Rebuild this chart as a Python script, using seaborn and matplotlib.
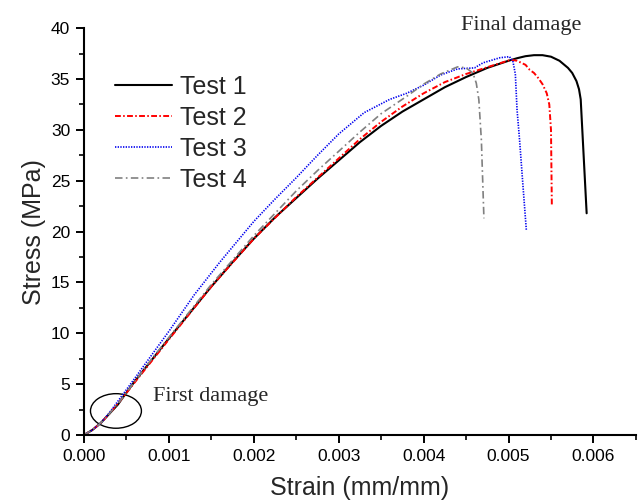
import matplotlib
matplotlib.use("Agg")
import matplotlib.pyplot as plt
from matplotlib.patches import Ellipse
from matplotlib.ticker import MultipleLocator, FormatStrFormatter
import pandas as pd
import seaborn as sns

# Stress-strain readings for the four tensile tests
strain_1 = [0, 0.0001, 0.0002, 0.0003, 0.0004, 0.00045, 0.0006, 0.0008, 0.001, 0.0015,
            0.00175, 0.002, 0.00225, 0.0025, 0.00275, 0.003, 0.00325, 0.0035, 0.00375, 0.004,
            0.00425, 0.0045, 0.00475, 0.005, 0.0051, 0.0052, 0.0053, 0.0054, 0.0055, 0.0056,
            0.0057, 0.00575, 0.0058, 0.00583, 0.00585, 0.00592]
stress_1 = [0, 0.5, 1.2, 2.1, 3.0, 3.6, 5.3, 7.4, 9.5, 14.6,
            17.0, 19.3, 21.4, 23.3, 25.2, 27.0, 28.8, 30.4, 31.8, 33.0,
            34.2, 35.2, 36.1, 36.8, 37.05, 37.25, 37.35, 37.35, 37.2, 36.8,
            36.1, 35.6, 34.8, 34.0, 33.0, 21.8]

strain_2 = [0, 0.0001, 0.0002, 0.0003, 0.00045, 0.0006, 0.0008, 0.001, 0.0015, 0.002,
            0.0025, 0.00275, 0.003, 0.00325, 0.0035, 0.00375, 0.004, 0.00425, 0.0045, 0.0048,
            0.00503, 0.0051, 0.0052, 0.00525, 0.0053, 0.00535, 0.0054, 0.00545, 0.00548,
            0.0055, 0.00551]
stress_2 = [0, 0.5, 1.2, 2.1, 3.6, 5.2, 7.3, 9.4, 14.6, 19.3,
            23.4, 25.3, 27.2, 29.1, 30.8, 32.3, 33.6, 34.7, 35.5, 36.3,
            36.9, 36.8, 36.4, 35.9, 35.6, 35.1, 34.5, 33.6, 32.5,
            30.0, 22.6]

strain_3 = [0, 0.0001, 0.0002, 0.0003, 0.00045, 0.0006, 0.0008, 0.001, 0.0013, 0.0016,
            0.002, 0.00225, 0.0025, 0.00275, 0.003, 0.0033, 0.0036, 0.0038, 0.004, 0.0042,
            0.0044, 0.0046, 0.0047, 0.0049, 0.00501, 0.00505, 0.00508, 0.0051, 0.00513,
            0.00517, 0.00521]
stress_3 = [0, 0.5, 1.2, 2.2, 3.9, 5.6, 7.9, 10.2, 13.8, 17.0,
            21.0, 23.2, 25.3, 27.5, 29.6, 31.7, 33.0, 33.6, 34.4, 35.4,
            36.0, 36.1, 36.6, 37.1, 37.2, 36.8, 35.5, 32.0, 29.0,
            24.5, 20.1]

strain_4 = [0, 0.0001, 0.0002, 0.0003, 0.00045, 0.0006, 0.0008, 0.001, 0.0015, 0.002,
            0.0025, 0.00275, 0.003, 0.00325, 0.0035, 0.0038, 0.004, 0.0042, 0.0044, 0.0045,
            0.00458, 0.00462, 0.00465, 0.00468, 0.00471]
stress_4 = [0, 0.5, 1.2, 2.1, 3.6, 5.3, 7.5, 9.6, 14.8, 19.6,
            24.0, 26.0, 27.9, 29.8, 31.6, 33.3, 34.5, 35.5, 36.2, 36.1,
            35.6, 34.6, 33.0, 29.0, 21.3]

tests = ["Test 1", "Test 2", "Test 3", "Test 4"]
colors = ["#000000", "#ff0000", "#0000ee", "#808080"]
widths = [1.5, 1.4, 1.2, 1.2]
dash_styles = [(None, None), (3.0, 1.2, 0.8, 1.2), (0.8, 0.8), (4.5, 2.0, 1.0, 2.0)]

frames = []
for name, x, y in zip(tests, [strain_1, strain_2, strain_3, strain_4],
                      [stress_1, stress_2, stress_3, stress_4]):
    frames.append(pd.DataFrame({"Strain": x, "Stress": y, "Test": name}))
data = pd.concat(frames, ignore_index=True)

sns.set_style("ticks")
plt.rcParams["font.family"] = ["Liberation Sans", "DejaVu Sans"]

fig = plt.figure(figsize=(6.38, 5.04), dpi=100)
ax = fig.add_axes([0.1317, 0.137, 0.865, 0.807])

for name, c, lw, ds in zip(tests, colors, widths, dash_styles):
    sub = data[data["Test"] == name]
    sns.lineplot(data=sub, x="Strain", y="Stress", ax=ax, color=c, lw=lw,
                 sort=False, estimator=None, label=name)
    ln = ax.get_lines()[-1]
    ln.set_solid_joinstyle("round")
    if ds[0] is not None:
        ln.set_dashes(ds)

ax.set_xlim(0, 0.0065)
ax.set_ylim(0, 40)
ax.xaxis.set_major_locator(MultipleLocator(0.001))
ax.xaxis.set_minor_locator(MultipleLocator(0.0005))
ax.yaxis.set_major_locator(MultipleLocator(5))
ax.yaxis.set_minor_locator(MultipleLocator(2.5))
ax.xaxis.set_major_formatter(FormatStrFormatter("%.3f"))

for side in ["top", "right"]:
    ax.spines[side].set_visible(False)
for side in ["left", "bottom"]:
    ax.spines[side].set_linewidth(1.5)
    ax.spines[side].set_color("black")
ax.tick_params(which="major", direction="out", length=6, width=1.4, labelsize=12.5,
               colors="black", pad=4)
ax.tick_params(which="minor", direction="out", length=3.5, width=1.2, colors="black")

ax.set_xlabel("Strain (mm/mm)", fontsize=18, labelpad=9)
ax.set_ylabel("Stress (MPa)", fontsize=18, labelpad=3)

ax.legend(loc="upper left", bbox_to_anchor=(0.056, 0.885), frameon=False,
          fontsize=18, handlelength=2.3, handletextpad=0.3, labelspacing=0.28,
          borderpad=0, borderaxespad=0)

# First-damage marker and annotations
ax.add_patch(Ellipse((0.000376, 2.36), 0.0006, 3.4, fill=False, ec="black", lw=1.0,
                     clip_on=False))
ax.text(0.00081, 3.83, "First damage", fontsize=16, va="center", ha="left",
        family=["Liberation Serif", "DejaVu Serif"])
ax.text(0.00515, 40.3, "Final damage", fontsize=16, va="center", ha="center",
        family=["Liberation Serif", "DejaVu Serif"], clip_on=False)

fig.savefig("out.png", dpi=100)
